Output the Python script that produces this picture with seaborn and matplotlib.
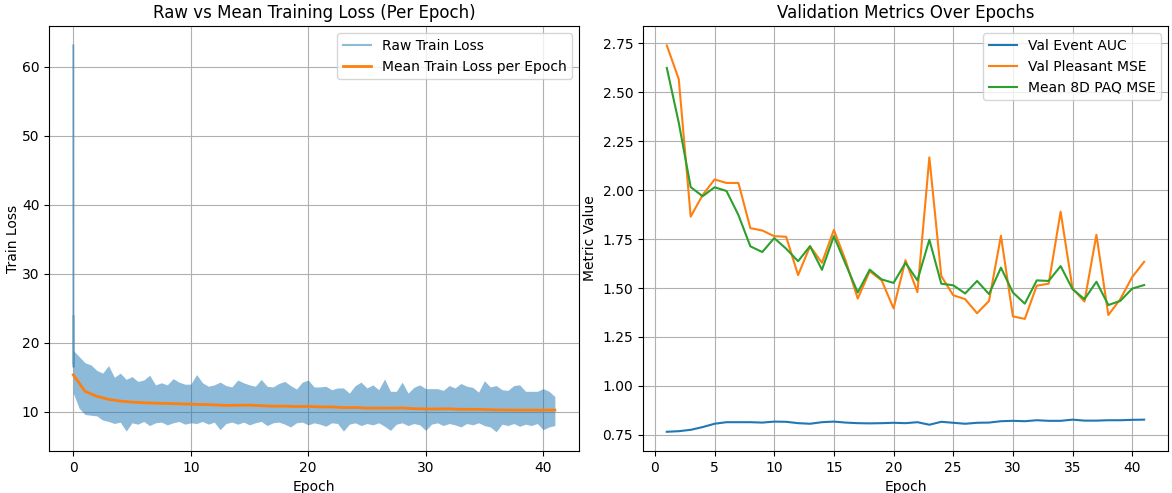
import numpy as np
import pandas as pd
import matplotlib
matplotlib.use("Agg")
import matplotlib.pyplot as plt
import seaborn as sns

# ---------------- Left panel data ----------------
# Raw train loss: first batches (spike) and per-half-epoch envelope of the dense raw trace
raw_spike_epoch = [0.0, 0.01, 0.02, 0.03, 0.05]
raw_spike_loss = [63.1, 17.0, 23.9, 16.5, 18.9]

raw_env_epoch = [i * 0.5 for i in range(83)]
raw_env_upper = [18.9, 18.0, 17.1, 16.8, 16.0, 15.6, 16.7, 15.0, 15.6, 14.7,
                 15.1, 14.4, 14.6, 15.3, 13.9, 14.2, 13.9, 14.8, 14.3, 14.0,
                 14.0, 15.4, 14.2, 13.7, 13.9, 14.3, 13.8, 13.6, 14.6, 14.2,
                 13.9, 13.7, 14.7, 13.7, 13.6, 14.1, 14.4, 13.8, 13.3, 14.3,
                 14.6, 13.6, 13.6, 13.7, 13.2, 13.45, 13.45, 12.7, 13.8, 14.3,
                 13.45, 13.9, 13.2, 14.75, 12.97, 12.97, 14.3, 12.7, 13.55, 13.9,
                 13.35, 13.35, 13.35, 13.1, 13.8, 13.45, 14.1, 13.7, 13.55, 12.85,
                 14.5, 13.6, 13.8, 13.2, 13.1, 13.8, 13.9, 12.97, 12.97, 12.97,
                 13.35, 12.97, 12.2]
raw_env_lower = [12.7, 10.5, 9.6, 9.5, 9.4, 8.8, 8.6, 8.3, 8.5, 7.2,
                 8.4, 8.2, 8.6, 8.0, 8.4, 8.5, 8.1, 8.4, 8.6, 8.2,
                 8.4, 8.3, 8.6, 8.2, 8.5, 7.4, 8.3, 8.5, 8.2, 8.5,
                 8.1, 8.4, 8.6, 8.0, 8.4, 8.5, 8.2, 7.8, 8.4, 8.5,
                 8.1, 8.4, 8.2, 7.9, 8.4, 8.3, 7.2, 8.2, 8.4, 8.0,
                 8.3, 8.1, 8.4, 7.9, 7.3, 8.2, 8.4, 8.0, 8.3, 8.1,
                 7.3, 8.2, 8.4, 8.0, 8.3, 8.1, 7.8, 8.3, 8.1, 8.4,
                 8.0, 7.8, 7.1, 8.2, 8.0, 8.3, 7.9, 8.2, 8.0, 8.3,
                 7.4, 7.8, 8.0]

mean_epoch = list(range(42))
mean_loss = [15.35, 12.96, 12.25, 11.8, 11.55, 11.4, 11.3, 11.25, 11.2, 11.15,
             11.1, 11.05, 11.0, 10.92, 10.95, 10.96, 10.88, 10.81, 10.82, 10.76,
             10.78, 10.7, 10.7, 10.6, 10.62, 10.53, 10.53, 10.52, 10.55, 10.45,
             10.4, 10.4, 10.43, 10.35, 10.36, 10.33, 10.27, 10.25, 10.24, 10.24,
             10.24, 10.25]

# ---------------- Right panel data ----------------
val_epoch = list(range(1, 42))
val_event_auc = [0.765, 0.768, 0.775, 0.789, 0.806, 0.814, 0.814, 0.814, 0.812, 0.817,
                 0.816, 0.809, 0.806, 0.814, 0.817, 0.812, 0.809, 0.808, 0.809, 0.811,
                 0.809, 0.814, 0.801, 0.816, 0.811, 0.806, 0.811, 0.812, 0.819, 0.821,
                 0.819, 0.824, 0.821, 0.821, 0.827, 0.822, 0.822, 0.824, 0.824, 0.826,
                 0.827]
val_pleasant_mse = [2.74, 2.568, 1.865, 1.975, 2.055, 2.037, 2.037, 1.806, 1.794, 1.765,
                    1.762, 1.566, 1.713, 1.629, 1.797, 1.637, 1.446, 1.586, 1.539, 1.396,
                    1.642, 1.479, 2.168, 1.561, 1.463, 1.443, 1.371, 1.434, 1.767, 1.355,
                    1.342, 1.512, 1.522, 1.89, 1.497, 1.431, 1.772, 1.362, 1.443, 1.556,
                    1.634]
mean_paq_mse = [2.625, 2.345, 2.016, 1.969, 2.015, 1.996, 1.873, 1.713, 1.684, 1.755,
                1.701, 1.637, 1.714, 1.593, 1.765, 1.62, 1.477, 1.594, 1.544, 1.526,
                1.629, 1.539, 1.747, 1.522, 1.514, 1.472, 1.536, 1.469, 1.604, 1.477,
                1.42, 1.539, 1.536, 1.612, 1.494, 1.443, 1.532, 1.413, 1.434, 1.497,
                1.515]

C0, C1, C2 = "#1f77b4", "#ff7f0e", "#2ca02c"

fig, (ax1, ax2) = plt.subplots(1, 2, figsize=(11.72, 4.93), dpi=100)

# ----- Left -----
ax1.fill_between(raw_env_epoch, raw_env_lower, raw_env_upper, color=C0, alpha=0.5,
                 linewidth=0, zorder=2)
sns.lineplot(x=raw_spike_epoch, y=raw_spike_loss, ax=ax1, color=C0, alpha=0.5,
             linewidth=1.5, label="Raw Train Loss", estimator=None, sort=False, zorder=2.1)
sns.lineplot(x=mean_epoch, y=mean_loss, ax=ax1, color=C1, linewidth=2,
             label="Mean Train Loss per Epoch", zorder=3)
ax1.set_title("Raw vs Mean Training Loss (Per Epoch)")
ax1.set_xlabel("Epoch")
ax1.set_ylabel("Train Loss", labelpad=1)
ax1.grid(True)
ax1.legend(loc="upper right")

# ----- Right -----
sns.lineplot(x=val_epoch, y=val_event_auc, ax=ax2, color=C0, linewidth=1.5, label="Val Event AUC")
sns.lineplot(x=val_epoch, y=val_pleasant_mse, ax=ax2, color=C1, linewidth=1.5, label="Val Pleasant MSE")
sns.lineplot(x=val_epoch, y=mean_paq_mse, ax=ax2, color=C2, linewidth=1.5, label="Mean 8D PAQ MSE")
ax2.set_title("Validation Metrics Over Epochs")
ax2.set_xlabel("Epoch")
ax2.set_ylabel("Metric Value")
ax2.grid(True)
ax2.legend(loc="upper right")

bottom, top = 0.085, 0.947
ax1.set_position([0.042, bottom, 0.494 - 0.042, top - bottom])
ax2.set_position([0.5486, bottom, 0.9966 - 0.5486, top - bottom])
fig.savefig("out.png", dpi=100)
